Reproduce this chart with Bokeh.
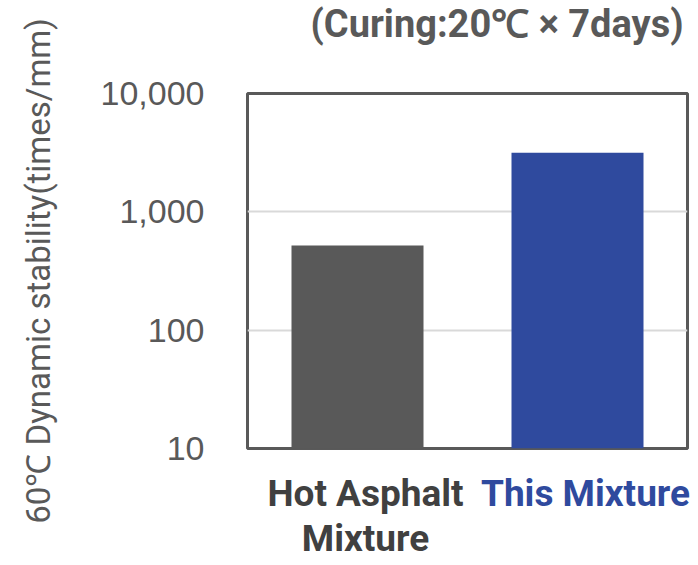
import math
from bokeh.plotting import figure
from bokeh.models import Range1d, Label, NumeralTickFormatter, FixedTicker
from bokeh.embed import file_html
from bokeh.resources import INLINE

# ---- data ----
categories = ["Hot Asphalt\nMixture", "This Mixture"]
values = [520, 3150]
bar_colors = ["#595959", "#2F4A9E"]
label_colors = ["#404040", "#2F4A9E"]
y_ticks = [10, 100, 1000, 10000]
title_text = "(Curing:20\u2103 \u00d7 7days)"
y_title = "60\u2103 Dynamic stability(times/mm)"

NARROW = "Roboto"
W, H = 696, 563

p = figure(width=W, height=H,
           x_range=Range1d(0, len(categories)),
           y_range=Range1d(y_ticks[0], y_ticks[-1]),
           y_axis_type="log",
           output_backend="svg", toolbar_location=None,
           min_border_left=247, min_border_right=W - 687,
           min_border_top=93, min_border_bottom=H - 448)

xs = [i + 0.5 for i in range(len(categories))]
p.vbar(x=xs, top=values, bottom=y_ticks[0], width=0.6,
       fill_color=bar_colors, line_color=None)

p.xaxis.visible = False
p.xgrid.visible = False

ya = p.yaxis[0]
ya.ticker = FixedTicker(ticks=y_ticks, minor_ticks=[])
ya.formatter = NumeralTickFormatter(format="0,0")
ya.major_label_text_font = "Liberation Sans"
ya.major_label_text_font_size = "34px"
ya.major_label_text_color = "#595959"
ya.axis_line_color = None
ya.major_tick_line_color = None
ya.minor_tick_line_color = None
ya.major_label_standoff = 37
ya.axis_label = y_title
ya.axis_label_text_font = NARROW
ya.axis_label_text_font_style = "normal"
ya.axis_label_text_font_size = "33px"
ya.axis_label_text_color = "#595959"
ya.axis_label_standoff = 40

p.ygrid.ticker = FixedTicker(ticks=y_ticks, minor_ticks=[])
p.ygrid.grid_line_color = "#D9D9D9"
p.ygrid.grid_line_width = 2

p.outline_line_color = "#595959"
p.outline_line_width = 3
p.outline_line_alpha = 1.0
p.background_fill_color = "white"
p.border_fill_color = "white"

# title (side panel above the frame, absolute canvas position)
p.add_layout(Label(x=683, y=23, x_units="canvas", y_units="canvas",
                   text=title_text, text_align="right",
                   text_baseline="alphabetic",
                   text_font=NARROW, text_font_style="bold",
                   text_font_size="38px", text_color="#595959"), "above")

# category labels: one text per line so they fit the side panels
cat_style = dict(x_units="data", y_units="canvas", x_offset=8,
                 text_align="center", text_baseline="alphabetic",
                 text_font=NARROW, text_font_style="bold",
                 text_font_size="37px")
line_baselines = [493, 538]
for x, cat, col in zip(xs, categories, label_colors):
    for k, line in enumerate(cat.split("\n")):
        place = "below" if k == 0 else "above"
        p.add_layout(Label(x=x, y=line_baselines[k], text=line,
                           text_color=col, **cat_style), place)

open("out.html", "w").write(file_html(p, INLINE))
